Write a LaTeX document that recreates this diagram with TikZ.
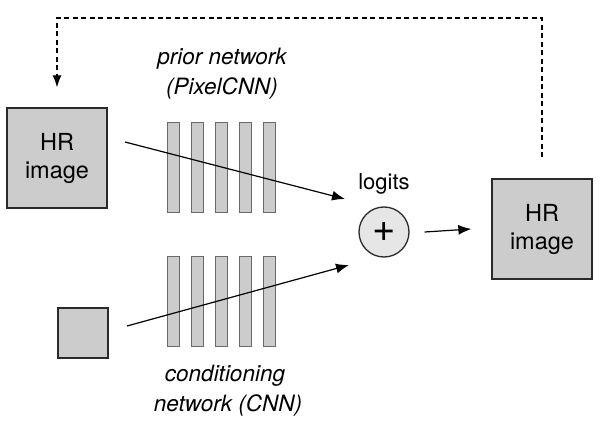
\documentclass[tikz,border=0pt]{standalone}
\usepackage{fontspec}
\setmainfont{TeX Gyre Heros}
\usetikzlibrary{arrows.meta}
\definecolor{boxgray}{HTML}{CCCCCC}
\definecolor{circgray}{HTML}{E6E6E6}
\definecolor{edge}{HTML}{2A2A2A}
\begin{document}
\begin{tikzpicture}[x=1pt,y=-1pt,
  imgbox/.style={draw=edge,line width=1.3pt,fill=boxgray,minimum width=100pt,minimum height=100pt,inner sep=0pt,align=center,font=\fontsize{23.5}{28}\selectfont},
  smallbox/.style={draw=edge,line width=1.3pt,fill=boxgray,minimum width=50pt,minimum height=50pt,inner sep=0pt},
  bar/.style={draw=edge!70,line width=0.6pt,fill=boxgray,minimum width=12pt,minimum height=90pt,inner sep=0pt},
  sumnode/.style={circle,draw=edge,line width=1.3pt,fill=circgray,minimum size=50pt,inner sep=0pt,font=\fontsize{40}{40}\selectfont},
  lbl/.style={font=\fontsize{22.5}{22.5}\selectfont\itshape,align=center},
  conn/.style={line width=1.2pt,-{Latex[length=13pt,width=10pt]}},
  fb/.style={line width=1.2pt,dashed,dash pattern=on 5pt off 3.5pt,-{Latex[length=12pt,width=9pt]}}]
\useasboundingbox[fill=white] (0,0) rectangle (600,428);
% boxes
\node[imgbox] (hr1) at (57,158) {HR\\image};
\node[imgbox] (hr2) at (542,229) {HR\\image};
\node[smallbox] (lr) at (83,333) {};
\node[sumnode] (sum) at (384,232) {+};
\node[font=\fontsize{22}{22}\selectfont] (logits) at (384,184) {logits};
% bars
\foreach \i/\x in {1/173,2/197,3/221,4/245,5/269}{
  \node[bar] (p\i) at (\x,167) {};
  \node[bar] (c\i) at (\x,301.5) {};
}
\node[lbl] (plbl1) at (222,59) {prior network};
\node[lbl] (plbl2) at (222,88) {(PixelCNN)};
\node[lbl] (clbl1) at (225,376) {conditioning};
\node[lbl] (clbl2) at (228,405) {network (CNN)};
% connectors
\coordinate (a1s) at (125,142);
\coordinate (a1e) at (345,199);
\coordinate (a2s) at (127,326);
\coordinate (a2e) at (349,265);
\draw[conn] (a1s) -- (a1e);
\draw[conn] (a2s) -- (a2e);
\draw[conn] (sum.east) ++(15,0) coordinate (s1) -- ([xshift=-20pt]hr2.west);
\coordinate (fbtop) at (542,18);
\draw[fb] ([yshift=21pt]hr2.north) -- (hr2.north |- fbtop) -- (hr1.north |- fbtop) -- ([yshift=20pt]hr1.north);
\end{tikzpicture}
\end{document}
